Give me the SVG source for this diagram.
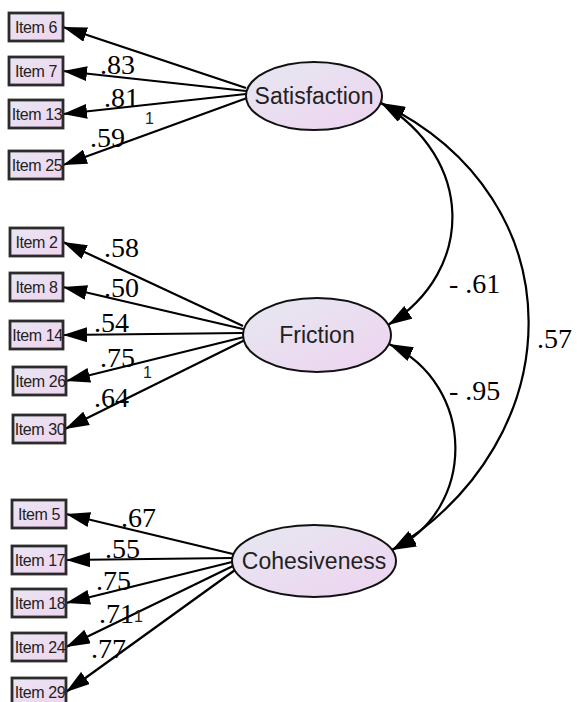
<svg xmlns="http://www.w3.org/2000/svg" width="577" height="702" viewBox="0 0 577 702">
<defs>
<linearGradient id="eg" x1="0" y1="0" x2="1" y2="1">
<stop offset="0" stop-color="#e6e8f1"/>
<stop offset="1" stop-color="#eed3f0"/>
</linearGradient>
<linearGradient id="bg" x1="0" y1="0" x2="1" y2="1">
<stop offset="0" stop-color="#e8e6f3"/>
<stop offset="1" stop-color="#efd4ef"/>
</linearGradient>
<marker id="ah" markerWidth="24" markerHeight="15" refX="24" refY="7.5" orient="auto" markerUnits="userSpaceOnUse">
<path d="M0,0 L24,7.5 L0,15 z" fill="#000"/>
</marker>
<marker id="ah2" markerWidth="24" markerHeight="15" refX="24" refY="7.5" orient="auto-start-reverse" markerUnits="userSpaceOnUse">
<path d="M0,0 L24,7.5 L0,15 z" fill="#000"/>
</marker>
</defs>
<style>
.box{fill:url(#bg);stroke:#2b2b2b;stroke-width:2.8}
.bt{font-family:"Liberation Sans",Arial,sans-serif;font-size:16px;fill:#222;text-anchor:middle;letter-spacing:-0.4px}
.ell{fill:url(#eg);stroke:#111;stroke-width:2}
.et{font-family:"Liberation Sans",Arial,sans-serif;font-size:23px;fill:#222;text-anchor:middle}
.ln{stroke:#000;stroke-width:2.2;fill:none;marker-end:url(#ah)}
.cv{stroke:#000;stroke-width:2.2;fill:none;marker-start:url(#ah2);marker-end:url(#ah2)}
.lb{font-family:"Liberation Serif","Times New Roman",serif;font-size:28px;fill:#000}
.one{font-family:"Liberation Sans",Arial,sans-serif;font-size:16px;fill:#222}
</style>
<rect width="577" height="702" fill="#fff"/>

<g id="connectors">
<line class="ln" x1="246" y1="88" x2="63" y2="27"/>
<line class="ln" x1="246" y1="91" x2="63" y2="71"/>
<line class="ln" x1="246" y1="94" x2="63" y2="114"/>
<line class="ln" x1="247" y1="98" x2="63" y2="165"/>
<line class="ln" x1="243" y1="326" x2="63" y2="242"/>
<line class="ln" x1="243" y1="329" x2="63" y2="287"/>
<line class="ln" x1="243" y1="333" x2="63" y2="335"/>
<line class="ln" x1="244" y1="337" x2="66" y2="381"/>
<line class="ln" x1="245" y1="340" x2="65" y2="429"/>
<line class="ln" x1="233" y1="554" x2="66" y2="514"/>
<line class="ln" x1="232" y1="558" x2="66" y2="560"/>
<line class="ln" x1="232" y1="562" x2="66" y2="603"/>
<line class="ln" x1="233" y1="566" x2="66" y2="647"/>
<line class="ln" x1="235" y1="570" x2="66" y2="692"/>
<path class="cv" d="M381,103 C474,158 476,270 388,325"/>
<path class="cv" d="M381,103 C580,200 572,440 392,550"/>
<path class="cv" d="M389,344 C477,385 477,510 392,550"/>
</g>

<g id="item6"><rect class="box" x="9" y="13" width="54" height="28"/><text class="bt" x="36" y="33">Item 6</text></g>
<g id="item7"><rect class="box" x="9" y="57" width="54" height="28"/><text class="bt" x="36" y="77">Item 7</text></g>
<g id="item13"><rect class="box" x="9" y="100" width="54" height="28"/><text class="bt" x="37" y="120">Item 13</text></g>
<g id="item25"><rect class="box" x="9" y="151" width="54" height="28"/><text class="bt" x="37" y="171">Item 25</text></g>

<g id="item2"><rect class="box" x="10" y="228" width="53" height="28"/><text class="bt" x="36.5" y="248">Item 2</text></g>
<g id="item8"><rect class="box" x="10" y="273" width="53" height="28"/><text class="bt" x="36.5" y="293">Item 8</text></g>
<g id="item14"><rect class="box" x="10" y="321" width="53" height="28"/><text class="bt" x="37.5" y="341">Item 14</text></g>
<g id="item26"><rect class="box" x="13" y="367" width="53" height="28"/><text class="bt" x="40.5" y="387">Item 26</text></g>
<g id="item30"><rect class="box" x="13" y="415" width="52" height="28"/><text class="bt" x="40" y="435">Item 30</text></g>

<g id="item5"><rect class="box" x="12" y="500" width="54" height="28"/><text class="bt" x="39" y="520">Item 5</text></g>
<g id="item17"><rect class="box" x="12" y="546" width="54" height="28"/><text class="bt" x="40" y="566">Item 17</text></g>
<g id="item18"><rect class="box" x="12" y="589" width="54" height="28"/><text class="bt" x="40" y="609">Item 18</text></g>
<g id="item24"><rect class="box" x="12" y="633" width="54" height="28"/><text class="bt" x="40" y="653">Item 24</text></g>
<g id="item29"><rect class="box" x="12" y="678" width="54" height="28"/><text class="bt" x="40" y="698">Item 29</text></g>

<g id="satisfaction"><ellipse class="ell" cx="314" cy="96" rx="68" ry="34"/><text class="et" x="314" y="104">Satisfaction</text></g>
<g id="friction"><ellipse class="ell" cx="317" cy="335" rx="74" ry="37"/><text class="et" x="317" y="343">Friction</text></g>
<g id="cohesiveness"><ellipse class="ell" cx="314" cy="561" rx="82" ry="36"/><text class="et" x="314" y="569">Cohesiveness</text></g>

<g id="labels">
<text class="lb" x="100" y="74">.83</text>
<text class="lb" x="104" y="107">.81</text>
<text class="one" x="145" y="124">1</text>
<text class="lb" x="90" y="147">.59</text>
<text class="lb" x="104" y="257">.58</text>
<text class="lb" x="104" y="297">.50</text>
<text class="lb" x="94" y="332">.54</text>
<text class="lb" x="100" y="367">.75</text>
<text class="one" x="143" y="378">1</text>
<text class="lb" x="94" y="407">.64</text>
<text class="lb" x="121" y="527">.67</text>
<text class="lb" x="105" y="558">.55</text>
<text class="lb" x="96" y="590">.75</text>
<text class="lb" x="99" y="623">.71</text>
<text class="one" x="134" y="622">1</text>
<text class="lb" x="91" y="658">.77</text>
<text class="lb" x="449" y="293">- .61</text>
<text class="lb" x="449" y="400">- .95</text>
<text class="lb" x="537" y="348">.57</text>
</g>
</svg>
